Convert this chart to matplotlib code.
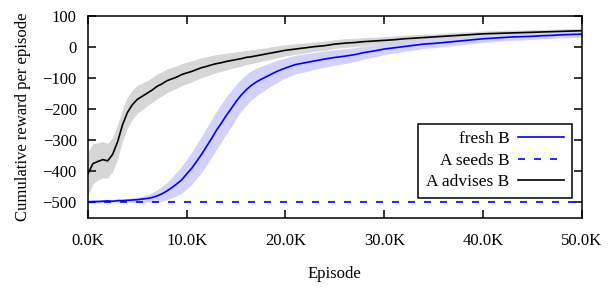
import matplotlib
matplotlib.use("Agg")
import matplotlib.pyplot as plt
from matplotlib.ticker import FuncFormatter, MultipleLocator
import numpy as np

plt.rcParams['font.family'] = ['Liberation Serif', 'DejaVu Serif']

episodes_k = [0, 0.5, 1, 1.5, 2, 2.5, 3, 3.5, 4, 4.5, 5, 5.5, 6, 6.5, 7, 7.5, 8, 8.5, 9, 9.5,
              10, 10.5, 11, 11.5, 12, 12.5, 13, 13.5, 14, 14.5, 15, 15.5, 16, 16.5, 17, 17.5,
              18, 18.5, 19, 19.5, 20, 21, 22, 23, 24, 25, 26, 27, 28, 29, 30, 31, 32, 33, 34,
              35, 36, 37, 38, 39, 40, 41, 42, 43, 44, 45, 46, 47, 48, 49, 50]

fresh_b = [-498, -497, -497, -496, -495, -496, -494, -494, -493, -492, -491, -489, -487, -484,
           -479, -472, -463, -452, -440, -427, -408, -390, -368, -345, -320, -295, -268, -245,
           -220, -198, -175, -155, -138, -124, -113, -104, -96, -88, -80, -73, -67, -56, -50,
           -44, -38, -33, -29, -24, -17, -12, -6, -2, 2, 6, 10, 12, 15, 18, 21, 24, 27, 29, 31,
           33, 34, 35, 37, 38, 40, 41, 42]
fresh_b_sd = [5, 5, 5, 5, 5, 5, 5, 5, 6, 7, 8, 10, 12, 16, 20, 24, 28, 33, 38, 43, 48, 52, 55,
              58, 60, 61, 62, 61, 60, 58, 55, 52, 50, 47, 45, 42, 40, 38, 36, 34, 32, 30, 29,
              27, 26, 25, 24, 22, 21, 19, 18, 17, 16, 15, 14, 14, 13, 13, 12, 12, 12, 11, 11,
              11, 11, 10, 10, 10, 10, 10, 10]

advises_b = [-408, -375, -368, -362, -366, -345, -305, -250, -210, -185, -168, -158, -148,
             -138, -126, -118, -108, -102, -96, -88, -83, -78, -72, -66, -62, -57, -53, -50,
             -46, -43, -40, -37, -33, -31, -28, -25, -22, -19, -16, -13, -10, -6, -2, 2, 5, 10,
             13, 15, 18, 20, 22, 24, 27, 29, 31, 33, 35, 37, 39, 41, 43, 44, 45, 46, 47, 48, 49,
             50, 51, 52, 53]
advises_b_sd = [70, 65, 60, 58, 56, 55, 55, 52, 50, 47, 45, 43, 40, 40, 40, 39, 38, 37, 36, 35,
                35, 34, 33, 32, 31, 30, 29, 28, 27, 26, 25, 24, 23, 22, 22, 21, 20, 20, 19, 19,
                18, 17, 16, 15, 15, 14, 14, 13, 13, 12, 12, 12, 11, 11, 11, 10, 10, 10, 10, 9,
                9, 9, 9, 9, 8, 8, 8, 8, 8, 8, 8]

seeds_episodes_k = [0, 50]
seeds_b = [-500, -500]

x = np.array(episodes_k) * 1000
fb = np.array(fresh_b)
ab = np.array(advises_b)
fsd = np.array(fresh_b_sd)
asd = np.array(advises_b_sd)

fig = plt.figure(figsize=(6.15, 2.88), dpi=100)
ax = fig.add_axes([0.143, 0.243, 0.803, 0.701])

ax.fill_between(x, ab - asd, ab + asd, color='#d6d6d6', lw=0)
ax.fill_between(x, fb - fsd, fb + fsd, color='#d2d2fc', lw=0)

ax.plot(x, fb, color='#0000ff', lw=1.2, label='fresh B')
ax.plot(np.array(seeds_episodes_k) * 1000, seeds_b, color='#0000ff', lw=1.2,
        dashes=(4.2, 5.4), label='A seeds B')
ax.plot(x, ab, color='black', lw=1.2, label='A advises B')

ax.set_xlim(0, 50000)
ax.set_ylim(-550, 100)
ax.xaxis.set_major_locator(MultipleLocator(10000))
ax.set_yticks([-500, -400, -300, -200, -100, 0, 100])
ax.xaxis.set_major_formatter(FuncFormatter(lambda v, p: f"{v/1000:.1f}K"))
ax.tick_params(direction='in', length=6, width=1.1, top=True, right=True, labelsize=12)
ax.tick_params(axis='x', pad=11)
ax.tick_params(axis='y', pad=8)
for s in ax.spines.values():
    s.set_linewidth(1.1)

ax.set_xlabel('Episode', fontsize=12, labelpad=12)
ax.set_ylabel('Cumulative reward per episode', fontsize=12, labelpad=8)

leg = ax.legend(loc='lower right', bbox_to_anchor=(0.98, 0.099), borderaxespad=0,
                markerfirst=False, fontsize=12.5, frameon=True, fancybox=False,
                edgecolor='black', framealpha=1, handlelength=2.65, handletextpad=0.5,
                labelspacing=0.3, borderpad=0.45)
leg.get_frame().set_linewidth(1.1)

fig.savefig('out.png', dpi=100)
